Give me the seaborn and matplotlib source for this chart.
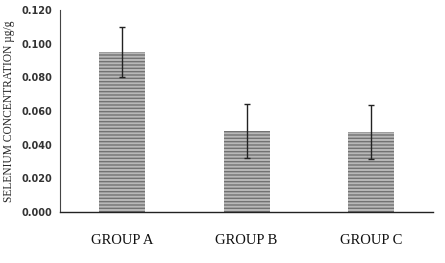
import matplotlib
matplotlib.use("Agg")
import matplotlib.pyplot as plt
import seaborn as sns
import pandas as pd
from matplotlib.ticker import FormatStrFormatter

groups = ["GROUP A", "GROUP B", "GROUP C"]
means = [0.095, 0.048, 0.0475]
errors = [0.015, 0.016, 0.016]
yticks = [0.000, 0.020, 0.040, 0.060, 0.080, 0.100, 0.120]

sns.set_style("white")
plt.rcParams["hatch.linewidth"] = 1.0

df = pd.DataFrame({"group": groups, "mean": means})
fig = plt.figure(figsize=(4.45, 2.63), dpi=100)
ax = fig.add_axes([0.135, 0.194, 0.838, 0.768])
sns.barplot(data=df, x="group", y="mean", ax=ax, color="#b8b8b8",
            width=0.37, errorbar=None, saturation=1)
for p in ax.patches:
    p.set_hatch("-----")
    p.set_edgecolor("#727272")
    p.set_linewidth(0)
ax.errorbar(range(len(groups)), means, yerr=errors, fmt="none",
            ecolor="#222222", elinewidth=1.0, capsize=2.5, capthick=1.0)
ax.set_ylim(0, 0.12)
ax.set_xlim(-0.5, 2.5)
ax.set_yticks(yticks)
ax.yaxis.set_major_formatter(FormatStrFormatter("%.3f"))
ax.tick_params(axis="y", labelsize=7, length=0, pad=5.5)
ax.tick_params(axis="x", labelsize=10.5, length=0, pad=16)
for t in ax.get_yticklabels():
    t.set_fontweight("bold")
    t.set_color("#333333")
for t in ax.get_xticklabels():
    t.set_fontfamily("Liberation Serif")
    t.set_color("#111111")
ax.set_xlabel("")
ax.set_ylabel("SELENIUM CONCENTRATION µg/g", fontfamily="Liberation Serif",
              fontsize=8.3, labelpad=5)
for s in ["top", "right"]:
    ax.spines[s].set_visible(False)
ax.spines["left"].set_color("#444444")
ax.spines["left"].set_linewidth(0.8)
ax.spines["bottom"].set_color("#222222")
ax.spines["bottom"].set_linewidth(1.0)
fig.savefig("out.png", dpi=100)
